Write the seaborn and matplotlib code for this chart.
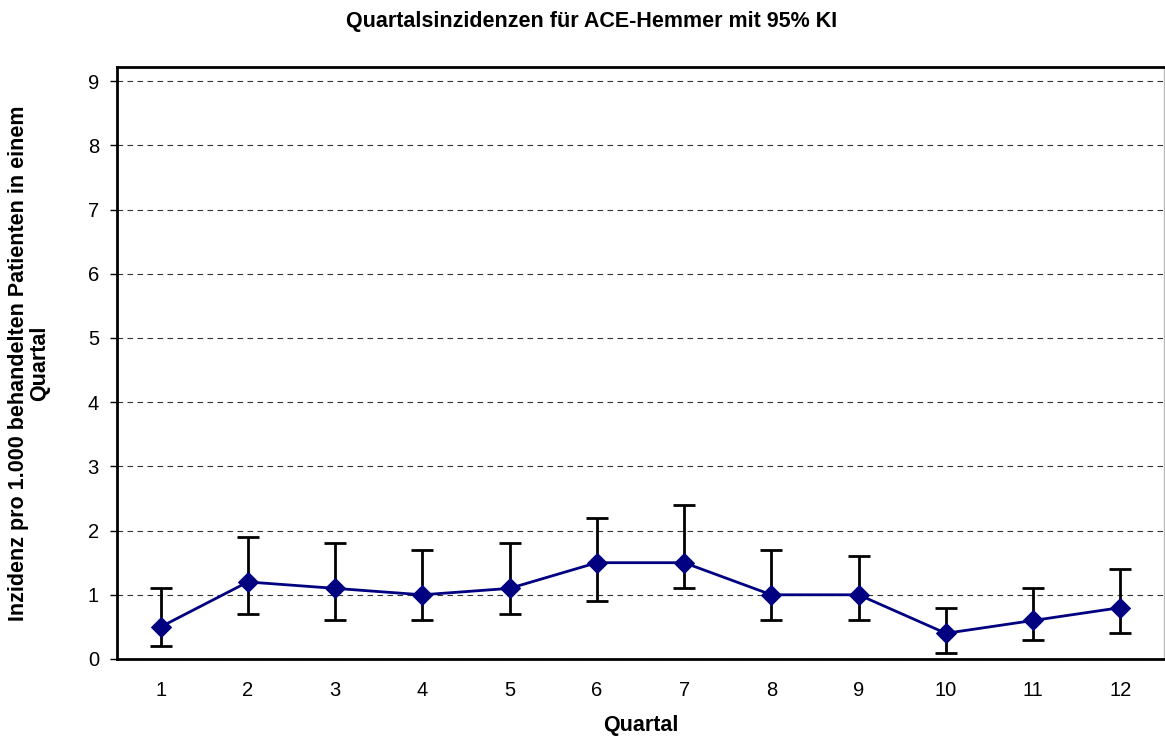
import numpy as np
import pandas as pd
import seaborn as sns
import matplotlib.pyplot as plt

# Daten aus der Abbildung
quartal = [1, 2, 3, 4, 5, 6, 7, 8, 9, 10, 11, 12]
inzidenz = [0.5, 1.2, 1.1, 1.0, 1.1, 1.5, 1.5, 1.0, 1.0, 0.4, 0.6, 0.8]
ki_unten = [0.2, 0.7, 0.6, 0.6, 0.7, 0.9, 1.1, 0.6, 0.6, 0.1, 0.3, 0.4]
ki_oben = [1.1, 1.9, 1.8, 1.7, 1.8, 2.2, 2.4, 1.7, 1.6, 0.8, 1.1, 1.4]

df = pd.DataFrame({"Quartal": quartal, "Inzidenz": inzidenz,
                   "unten": ki_unten, "oben": ki_oben})

sns.set_style("white")
plt.rcParams['font.family'] = ['Liberation Sans', 'DejaVu Sans']
plt.rcParams['text.color'] = 'black'
plt.rcParams['axes.labelcolor'] = 'black'
plt.rcParams['xtick.color'] = 'black'
plt.rcParams['ytick.color'] = 'black'

fig = plt.figure(figsize=(11.65, 7.38), dpi=100)
ax = fig.add_axes([117 / 1165, 1 - 659 / 738, 1047 / 1165, 592 / 738])

# Fehlerbalken (95% KI)
yerr = np.array([df["Inzidenz"] - df["unten"], df["oben"] - df["Inzidenz"]])
ax.errorbar(df["Quartal"], df["Inzidenz"], yerr=yerr, fmt="none",
            ecolor="black", elinewidth=2, capsize=8, capthick=2, zorder=2)

sns.lineplot(data=df, x="Quartal", y="Inzidenz", ax=ax, color="#000080",
             marker="D", markersize=10, markeredgecolor="#000080",
             linewidth=2, zorder=3)

ax.set_xlim(0.5, 12.5)
ax.set_ylim(0, 9.22)
ax.set_xticks(quartal)
ax.set_xticklabels([str(q) for q in quartal])
ax.set_yticks(range(0, 10))
ax.yaxis.grid(True, linestyle=(0, (5, 4)), color="#333333", linewidth=0.8)
ax.xaxis.grid(False)

for s in ["left", "bottom", "top"]:
    ax.spines[s].set_color("black")
    ax.spines[s].set_linewidth(2)
ax.spines["right"].set_color("#bbbbbb")
ax.spines["right"].set_linewidth(1)

ax.tick_params(axis="both", which="both", labelsize=14.5, direction="out",
               length=5, width=1, color="black", labelcolor="black", pad=8,
               bottom=False, left=True)
ax.tick_params(axis="x", pad=11)

ax.set_xlabel("Quartal", fontsize=15.5, fontweight="bold")
ax.xaxis.set_label_coords(0.5, -(725 - 659) / 592)
ax.xaxis.label.set_va("center")
ax.set_ylabel("Inzidenz pro 1.000 behandelten Patienten in einem\nQuartal",
              fontsize=15.5, fontweight="bold", linespacing=1.0)
ax.yaxis.set_label_coords(-(117 - 50) / 1047, 0.5)
fig.text(592 / 1165, 1 - 22 / 738, "Quartalsinzidenzen für ACE-Hemmer mit 95% KI",
         ha="center", va="center", fontsize=15.5, fontweight="bold")

fig.savefig("out.png", dpi=100)
